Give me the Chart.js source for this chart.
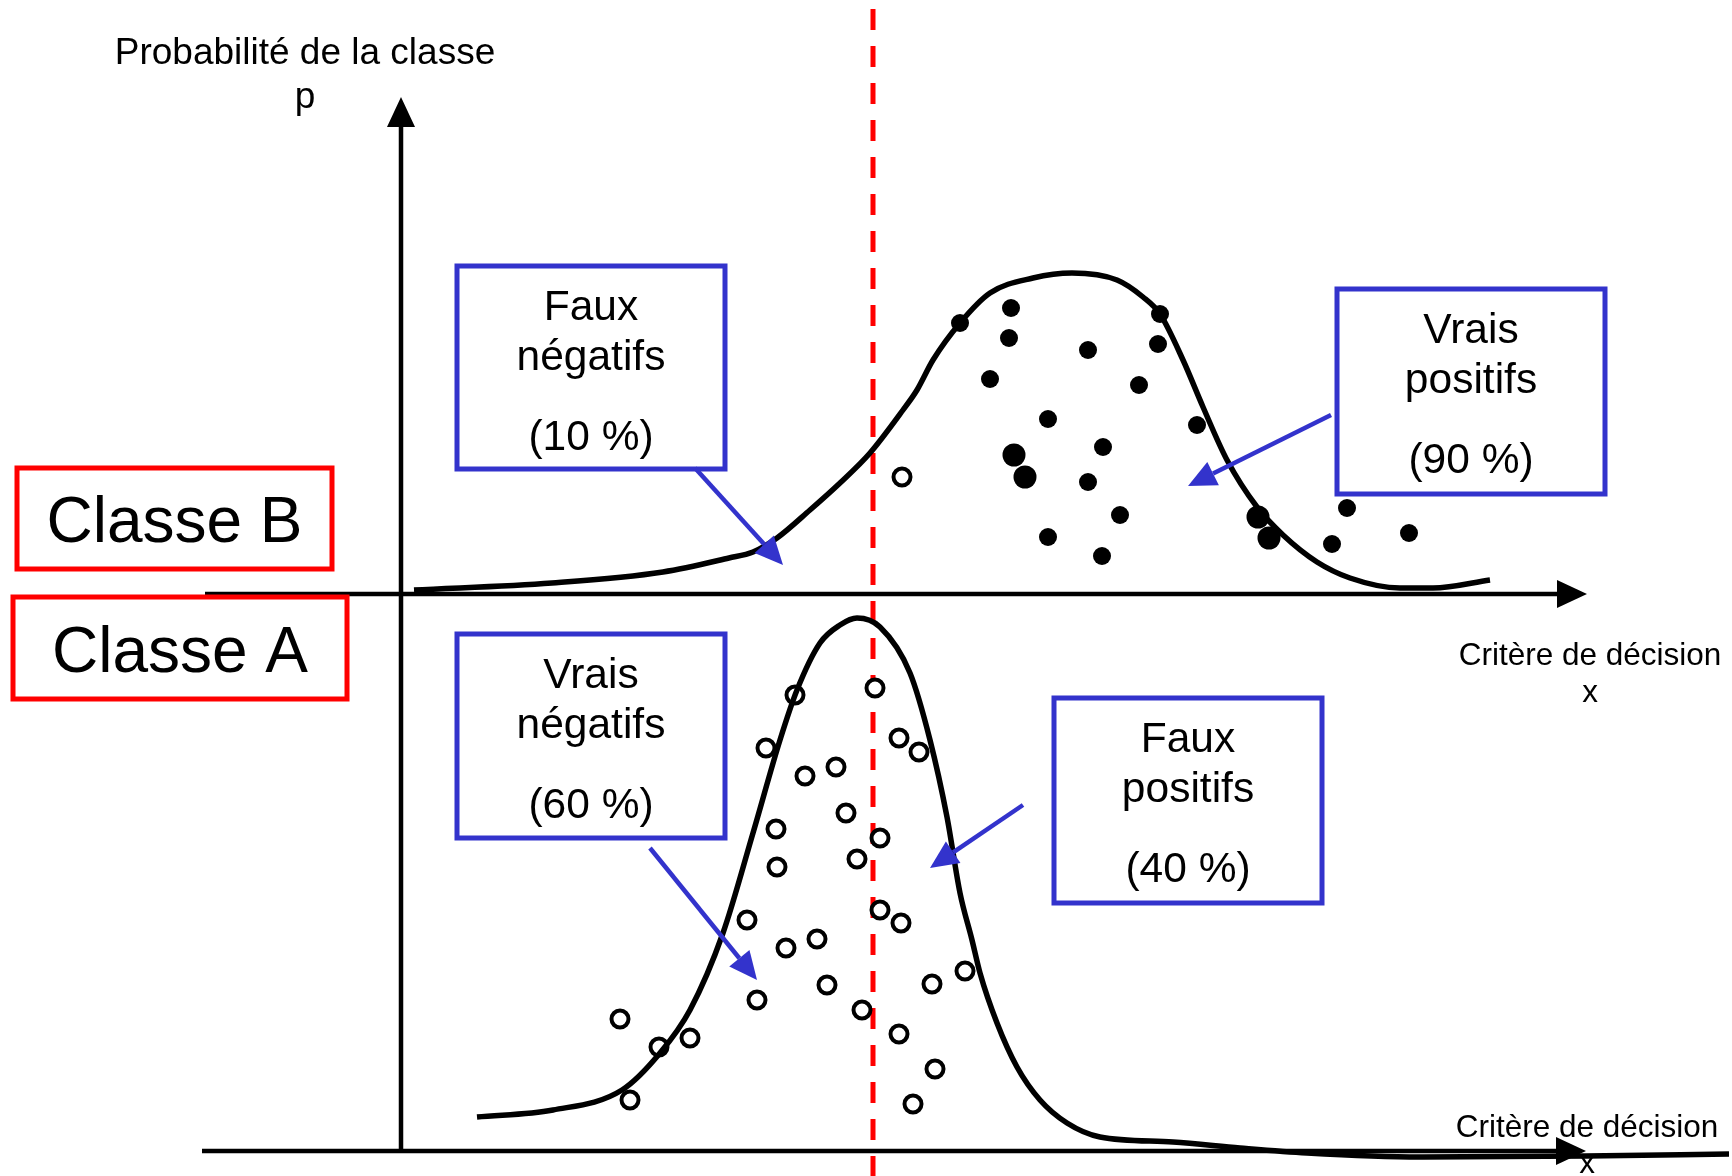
<!DOCTYPE html>
<html lang="fr">
<head>
<meta charset="utf-8">
<title>Critère de décision</title>
<script src="https://cdn.jsdelivr.net/npm/chart.js@4.4.1/dist/chart.umd.min.js"></script>
<style>
  html, body { margin: 0; padding: 0; background: #fff; }
  canvas { display: block; }
</style>
</head>
<body>
<canvas id="graphique" width="1732" height="1176"></canvas>
<script>
// Unités : x = distance depuis l'axe vertical, y = hauteur au-dessus de l'axe de chaque classe

// Courbe de la classe B (panneau du haut)
const courbeBx = [13, 151, 262, 328, 352, 376, 409, 439, 469, 502, 516, 532, 559, 589, 632, 671, 716, 742, 759, 782, 802, 826, 856, 882, 916, 949, 999, 1032, 1089];
const courbeBy = [4, 11, 22, 36, 42, 56, 84, 111, 141, 184, 204, 234, 271, 301, 316, 321, 314, 297, 280, 234, 187, 134, 87, 59, 32, 16, 6, 6, 14];

// Courbe de la classe A (panneau du bas)
const courbeAx = [76, 152, 221, 259, 289, 322, 352, 379, 396, 419, 439, 456, 479, 509, 529, 546, 559, 571, 579, 596, 616, 639, 666, 699, 772, 839, 906, 1019, 1185, 1328];
const courbeAy = [34, 41, 61, 98, 141, 218, 318, 411, 461, 508, 526, 533, 524, 478, 411, 334, 258, 211, 178, 128, 84, 51, 28, 14, 9, 3, -2, -6, -5, -3];

// Individus de la classe B (points pleins)
const pointsBx = [559, 610, 608, 687, 759, 757, 589, 738, 647, 796, 702, 687, 719, 647, 701, 946, 1008, 931];
const pointsBy = [271, 286, 256, 244, 280, 250, 215, 209, 175, 169, 147, 112, 79, 57, 38, 86, 61, 50];
// quelques points plus gros
const grosBx = [613, 624, 857, 868];
const grosBy = [139, 117, 77, 56];
// un individu de la classe A égaré dans la classe B
const egareBx = [501];
const egareBy = [117];

// Individus de la classe A (cercles vides)
const pointsAx = [394, 474, 365, 498, 518, 404, 435, 445, 375, 479, 456, 376, 346, 479, 500, 385, 416, 426, 356, 531, 564, 461, 219, 258, 289, 229, 498, 534, 512];
const pointsAy = [456, 463, 403, 413, 399, 375, 384, 338, 322, 313, 292, 284, 231, 241, 228, 203, 212, 166, 151, 167, 180, 141, 132, 104, 113, 51, 117, 82, 47];

// Seuil de décision
const seuil = 472;

// Étiquettes
const titreY = ['Probabilité de la classe', 'p'];
const titreX = ['Critère de décision', 'x'];
const classes = ['Classe B', 'Classe A'];
const cadres = [
  ['Faux', 'négatifs', '(10 %)'],
  ['Vrais', 'positifs', '(90 %)'],
  ['Vrais', 'négatifs', '(60 %)'],
  ['Faux', 'positifs', '(40 %)']
];

const zip = (xs, ys) => xs.map((x, i) => ({ x: x, y: ys[i] }));

const POLICE = '"Liberation Sans", Arial, sans-serif';
const BLEU = '#3333cc';
const ROUGE = '#ff0000';

// placement des cadres, flèches et textes
const boites = [
  { axe: 'yB', x0: 56, x1: 324, haut: 328, bas: 125, texte: cadres[0], fleche: [294, 126, 382, 29] },
  { axe: 'yB', x0: 936, x1: 1204, haut: 305, bas: 100, texte: cadres[1], fleche: [930, 179, 787, 108] },
  { axe: 'yA', x0: 56, x1: 324, haut: 517, bas: 313, texte: cadres[2], fleche: [249, 303, 356, 171] },
  { axe: 'yA', x0: 653, x1: 921, haut: 453, bas: 248, texte: cadres[3], fleche: [622, 346, 529, 283] }
];
const etiquettes = [
  { axe: 'yB', x0: -384, x1: -69, haut: 126, bas: 25, ligne: 52, texte: classes[0] },
  { axe: 'yA', x0: -388, x1: -54, haut: 554, bas: 452, ligne: 479, texte: classes[1] }
];

function pointe(ctx, x0, y0, x1, y1, long, demi) {
  const a = Math.atan2(y1 - y0, x1 - x0);
  const bx = x1 - long * Math.cos(a), by = y1 - long * Math.sin(a);
  ctx.beginPath();
  ctx.moveTo(x0, y0);
  ctx.lineTo(bx, by);
  ctx.stroke();
  ctx.beginPath();
  ctx.moveTo(x1, y1);
  ctx.lineTo(bx + demi * Math.sin(a), by - demi * Math.cos(a));
  ctx.lineTo(bx - demi * Math.sin(a), by + demi * Math.cos(a));
  ctx.closePath();
  ctx.fill();
}

const schema = {
  id: 'schema',
  beforeDatasetsDraw(chart) {
    const ctx = chart.ctx;
    const X = v => chart.scales.x.getPixelForValue(v);
    const A = v => chart.scales.yA.getPixelForValue(v);
    const B = v => chart.scales.yB.getPixelForValue(v);
    ctx.save();
    ctx.strokeStyle = '#000';
    ctx.fillStyle = '#000';
    ctx.lineWidth = 4.5;
    // axe vertical
    pointe(ctx, X(0), A(0), X(0), A(1054), 30, 14);
    // axes horizontaux
    pointe(ctx, X(-196), B(0), X(1186), B(0), 30, 14);
    pointe(ctx, X(-199), A(0), X(1185), A(0), 30, 14);
    // seuil
    ctx.strokeStyle = ROUGE;
    ctx.lineWidth = 5;
    ctx.setLineDash([21, 16]);
    ctx.beginPath();
    ctx.moveTo(X(seuil), A(1142));
    ctx.lineTo(X(seuil), A(-25));
    ctx.stroke();
    ctx.restore();
  },
  afterDatasetsDraw(chart) {
    const ctx = chart.ctx;
    const X = v => chart.scales.x.getPixelForValue(v);
    const Y = (axe, v) => chart.scales[axe].getPixelForValue(v);
    ctx.save();
    ctx.textAlign = 'center';
    ctx.textBaseline = 'alphabetic';

    // titres des axes
    ctx.fillStyle = '#000';
    ctx.font = '37px ' + POLICE;
    ctx.fillText(titreY[0], X(-96), Y('yA', 1087));
    ctx.fillText(titreY[1], X(-96), Y('yA', 1043));
    ctx.font = '31.5px ' + POLICE;
    ctx.fillText(titreX[0], X(1189), Y('yB', -71));
    ctx.fillText(titreX[1], X(1189), Y('yB', -108));
    ctx.fillText(titreX[0], X(1186), Y('yA', 14));
    ctx.fillText(titreX[1], X(1186), Y('yA', -22));

    // étiquettes des classes
    etiquettes.forEach(e => {
      const l = X(e.x0), r = X(e.x1), t = Y(e.axe, e.haut), b = Y(e.axe, e.bas);
      ctx.fillStyle = '#fff';
      ctx.fillRect(l, t, r - l, b - t);
      ctx.strokeStyle = ROUGE;
      ctx.lineWidth = 5;
      ctx.strokeRect(l, t, r - l, b - t);
      ctx.fillStyle = '#000';
      ctx.font = '64px ' + POLICE;
      ctx.fillText(e.texte, (l + r) / 2, Y(e.axe, e.ligne));
    });

    // cadres bleus et flèches
    boites.forEach(c => {
      const l = X(c.x0), r = X(c.x1), t = Y(c.axe, c.haut), b = Y(c.axe, c.bas);
      ctx.fillStyle = '#fff';
      ctx.fillRect(l, t, r - l, b - t);
      ctx.strokeStyle = BLEU;
      ctx.lineWidth = 5;
      ctx.strokeRect(l, t, r - l, b - t);
      ctx.fillStyle = '#000';
      ctx.font = '42.5px ' + POLICE;
      const decal = [54, 104, 184];
      c.texte.forEach((ligne, i) => ctx.fillText(ligne, (l + r) / 2, t + decal[i]));
      const f = c.fleche;
      ctx.strokeStyle = BLEU;
      ctx.fillStyle = BLEU;
      ctx.lineWidth = 4.5;
      pointe(ctx, X(f[0]), Y(c.axe, f[1]), X(f[2]), Y(c.axe, f[3]), 28, 13);
    });
    ctx.restore();
  }
};

new Chart(document.getElementById('graphique'), {
  type: 'scatter',
  data: {
    datasets: [
      {
        type: 'line',
        label: 'Classe B',
        data: zip(courbeBx, courbeBy),
        yAxisID: 'yB',
        borderColor: '#000',
        borderWidth: 5.5,
        pointRadius: 0,
        fill: false,
        cubicInterpolationMode: 'monotone'
      },
      {
        type: 'line',
        label: 'Classe A',
        data: zip(courbeAx, courbeAy),
        yAxisID: 'yA',
        borderColor: '#000',
        borderWidth: 5.5,
        pointRadius: 0,
        fill: false,
        cubicInterpolationMode: 'monotone'
      },
      {
        label: 'Individus B',
        data: zip(pointsBx, pointsBy),
        yAxisID: 'yB',
        pointRadius: 9,
        backgroundColor: '#000',
        borderWidth: 0
      },
      {
        label: 'Individus B (gros)',
        data: zip(grosBx, grosBy),
        yAxisID: 'yB',
        pointRadius: 11.5,
        backgroundColor: '#000',
        borderWidth: 0
      },
      {
        label: 'Individu A égaré',
        data: zip(egareBx, egareBy),
        yAxisID: 'yB',
        pointRadius: 8.5,
        backgroundColor: '#fff',
        borderColor: '#000',
        borderWidth: 4
      },
      {
        label: 'Individus A',
        data: zip(pointsAx, pointsAy),
        yAxisID: 'yA',
        pointRadius: 8.5,
        backgroundColor: '#fff',
        borderColor: '#000',
        borderWidth: 4
      }
    ]
  },
  options: {
    responsive: false,
    animation: false,
    devicePixelRatio: 1,
    layout: { padding: 0, autoPadding: false },
    plugins: { legend: { display: false }, tooltip: { enabled: false } },
    scales: {
      x: { type: 'linear', min: -401, max: 1331, display: false },
      yB: { type: 'linear', min: -582, max: 594, display: false },
      yA: { type: 'linear', min: -25, max: 1151, display: false }
    }
  },
  plugins: [schema]
});
</script>
</body>
</html>
